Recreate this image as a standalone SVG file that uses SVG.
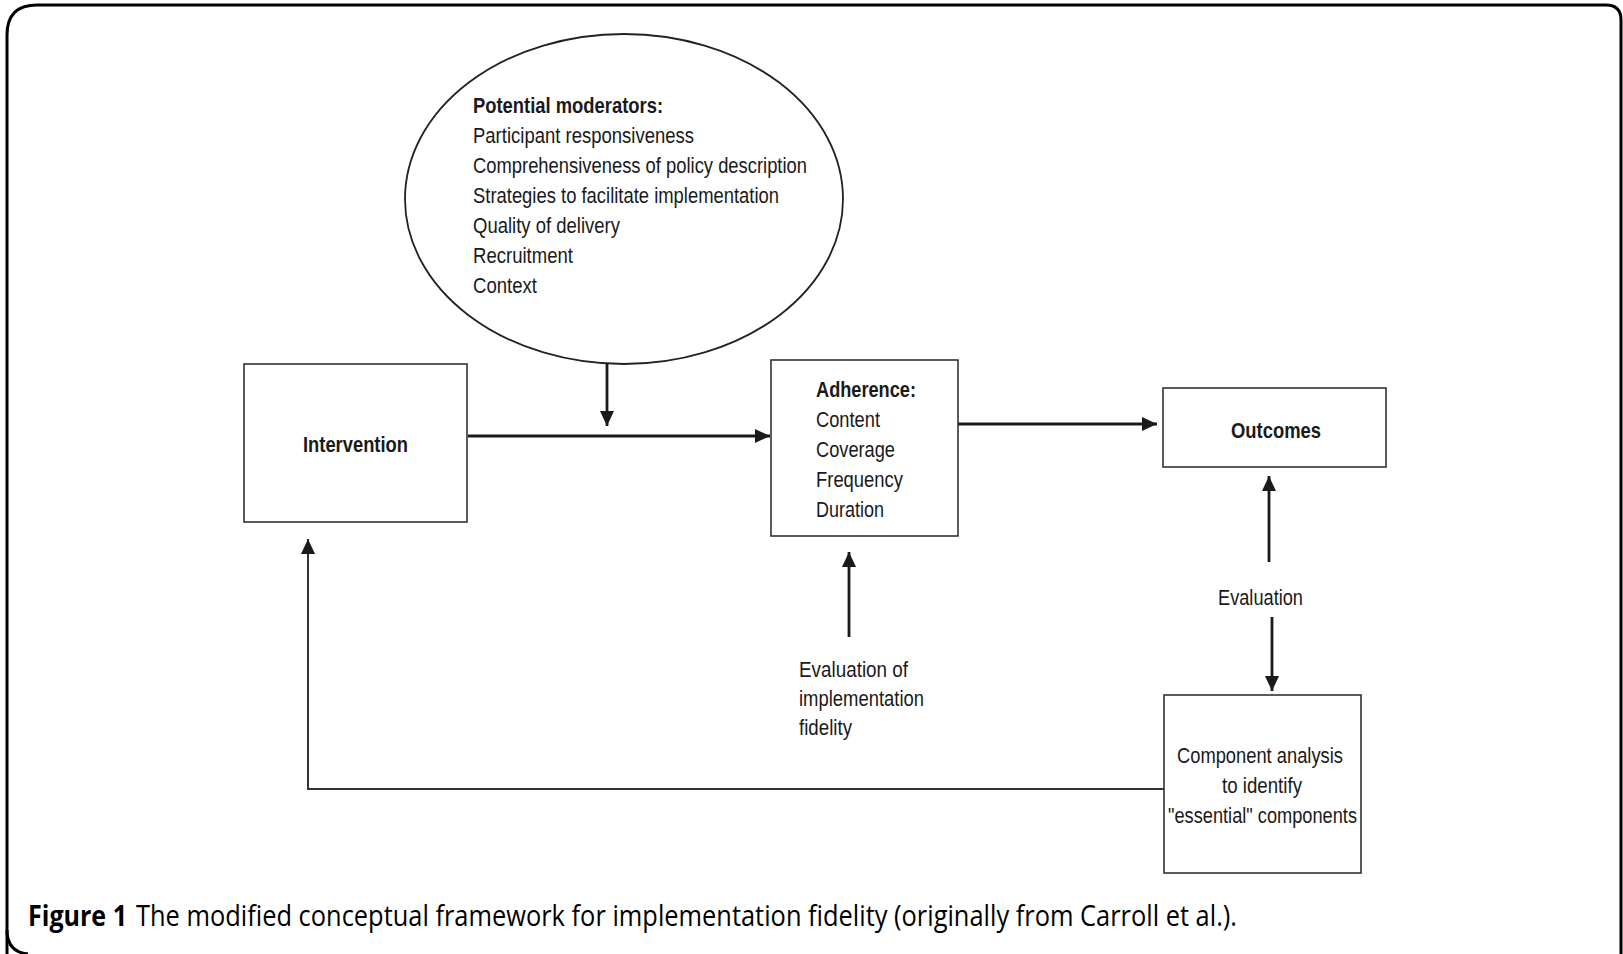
<svg xmlns="http://www.w3.org/2000/svg" width="1623" height="954" viewBox="0 0 1623 954">
<defs>
<style>
.box{fill:#fff;stroke:#333;stroke-width:1.6}
.ln{fill:none;stroke:#1a1a1a;stroke-width:2.8}
.fb{fill:none;stroke:#333;stroke-width:2}
.t{font-family:"Liberation Sans Narrow","Liberation Sans",Arial,sans-serif;font-size:21.5px;fill:#1a1a1a}
.b{font-weight:bold}
.cap{font-family:"Open Sans","Noto Sans","Liberation Sans",sans-serif;font-size:29px;fill:#000}
</style>
<marker id="ah" markerUnits="userSpaceOnUse" markerWidth="16" markerHeight="14" refX="15" refY="7" orient="auto">
<path d="M0,0 L15,7 L0,14 Z" fill="#1a1a1a"/>
</marker>
</defs>
<rect width="1623" height="954" fill="#fff"/>
<path d="M7,960 L7,35 Q7,5 37,5 L1606,5 Q1621,5 1621,20 L1621,960" fill="none" stroke="#000" stroke-width="3"/>
<path d="M7,930 Q7,952 28,954" fill="none" stroke="#000" stroke-width="3"/>

<g id="connectors">
<line class="ln" x1="468" y1="436" x2="770" y2="436" marker-end="url(#ah)"/>
<line class="ln" x1="607" y1="364" x2="607" y2="426" marker-end="url(#ah)"/>
<line class="ln" x1="958" y1="424" x2="1157" y2="424" marker-end="url(#ah)"/>
<line class="ln" x1="849" y1="637" x2="849" y2="552" marker-end="url(#ah)"/>
<line class="ln" x1="1269" y1="562" x2="1269" y2="476" marker-end="url(#ah)"/>
<line class="ln" x1="1272" y1="617" x2="1272" y2="691" marker-end="url(#ah)"/>
<path class="fb" d="M1164,789 L308,789 L308,539" marker-end="url(#ah)"/>
</g>

<g id="moderators">
<ellipse cx="624" cy="199" rx="219" ry="165" fill="#fff" stroke="#222" stroke-width="1.8"/>
<text class="t" x="473" y="113" font-weight="bold" textLength="190" lengthAdjust="spacingAndGlyphs">Potential moderators:</text>
<text class="t" x="473" y="143" textLength="221" lengthAdjust="spacingAndGlyphs">Participant responsiveness</text>
<text class="t" x="473" y="173" textLength="334" lengthAdjust="spacingAndGlyphs">Comprehensiveness of policy description</text>
<text class="t" x="473" y="203" textLength="306" lengthAdjust="spacingAndGlyphs">Strategies to facilitate implementation</text>
<text class="t" x="473" y="233" textLength="147" lengthAdjust="spacingAndGlyphs">Quality of delivery</text>
<text class="t" x="473" y="263" textLength="100" lengthAdjust="spacingAndGlyphs">Recruitment</text>
<text class="t" x="473" y="293" textLength="64" lengthAdjust="spacingAndGlyphs">Context</text>
</g>

<g id="intervention">
<rect class="box" x="244" y="364" width="223" height="158"/>
<text class="t b" x="303" y="452" textLength="105" lengthAdjust="spacingAndGlyphs">Intervention</text>
</g>

<g id="adherence">
<rect class="box" x="771" y="360" width="187" height="176"/>
<text class="t b" x="816" y="397" textLength="100" lengthAdjust="spacingAndGlyphs">Adherence:</text>
<text class="t" x="816" y="427" textLength="64" lengthAdjust="spacingAndGlyphs">Content</text>
<text class="t" x="816" y="457" textLength="79" lengthAdjust="spacingAndGlyphs">Coverage</text>
<text class="t" x="816" y="487" textLength="87" lengthAdjust="spacingAndGlyphs">Frequency</text>
<text class="t" x="816" y="517" textLength="68" lengthAdjust="spacingAndGlyphs">Duration</text>
</g>

<g id="outcomes">
<rect class="box" x="1163" y="388" width="223" height="79"/>
<text class="t b" x="1231" y="438" textLength="90" lengthAdjust="spacingAndGlyphs">Outcomes</text>
</g>

<g id="evaluation-label">
<text class="t" x="1218" y="605" textLength="85" lengthAdjust="spacingAndGlyphs">Evaluation</text>
</g>

<g id="fidelity-label">
<text class="t" x="799" y="677" textLength="109" lengthAdjust="spacingAndGlyphs">Evaluation of</text>
<text class="t" x="799" y="706" textLength="125" lengthAdjust="spacingAndGlyphs">implementation</text>
<text class="t" x="799" y="735" textLength="53" lengthAdjust="spacingAndGlyphs">fidelity</text>
</g>

<g id="component">
<rect class="box" x="1164" y="695" width="197" height="178"/>
<text class="t" x="1177" y="763" textLength="166" lengthAdjust="spacingAndGlyphs">Component analysis</text>
<text class="t" x="1222" y="793" textLength="80" lengthAdjust="spacingAndGlyphs">to identify</text>
<text class="t" x="1168" y="823" textLength="189" lengthAdjust="spacingAndGlyphs">"essential" components</text>
</g>

<g id="caption">
<text class="cap" x="28" y="926" font-weight="bold" textLength="99" lengthAdjust="spacingAndGlyphs">Figure 1</text>
<text class="cap" x="136" y="926" textLength="1101" lengthAdjust="spacingAndGlyphs">The modified conceptual framework for implementation fidelity (originally from Carroll et al.).</text>
</g>
</svg>
